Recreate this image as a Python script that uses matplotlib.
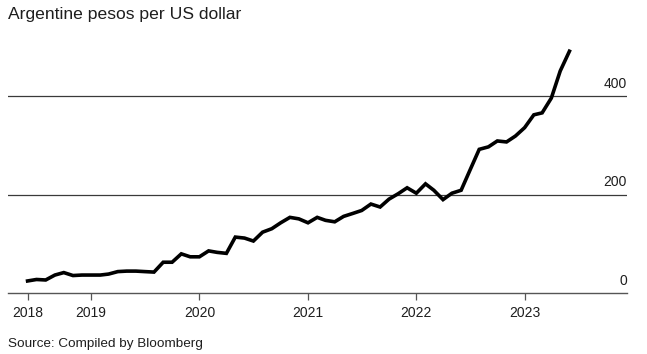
import pandas as pd
import matplotlib
matplotlib.use('Agg')
import matplotlib.pyplot as plt
import matplotlib.transforms as mtransforms

plt.rcParams['font.family'] = ['Liberation Sans', 'DejaVu Sans']

# data: monthly pesos per US dollar, Jun 2018 - Jun 2023
months = pd.date_range('2018-06-01', periods=61, freq='MS')
pesos = [25, 28, 27, 37, 42, 36, 37, 37, 37, 39,
         44, 45, 45, 44, 43, 63, 63, 80, 74, 74,
         86, 83, 81, 114, 112, 106, 124, 131, 143, 154,
         151, 143, 154, 148, 145, 156, 162, 168, 181, 175,
         191, 202, 214, 203, 222, 209, 190, 203, 209, 250,
         292, 297, 309, 307, 319, 336, 362, 366, 396, 451,
         491]
tick_dates = pd.to_datetime(['2018-06-01', '2019-01-01', '2020-01-01',
                             '2021-01-01', '2022-01-01', '2023-01-01'])
tick_labels = ['2018', '2019', '2020', '2021', '2022', '2023']
y_levels = [0, 200, 400]

text_col = '#1e1e1e'

fig = plt.figure(figsize=(6.47, 3.54), dpi=100)
ax = fig.add_axes([8 / 647, 0.1715, 619 / 647, 0.6963])

ax.plot(months, pesos, color='black', lw=2.6, clip_on=False,
        solid_joinstyle='miter', zorder=3)

# grid lines at 200 / 400
for v in y_levels[1:]:
    ax.axhline(v, color='#3a3a3a', lw=0.9, zorder=1)

# right-side value labels sitting on the lines
for v in y_levels:
    tr = mtransforms.offset_copy(ax.get_yaxis_transform(), fig=fig,
                                 x=0, y=6, units='points')
    ax.text(1.0, v, str(v), transform=tr, ha='right', va='baseline',
            fontsize=10, color=text_col)

ax.set_ylim(0, 500)
ax.set_xlim(pd.Timestamp('2018-03-27'), pd.Timestamp('2023-12-12'))

for s in ['left', 'right', 'top']:
    ax.spines[s].set_visible(False)
ax.spines['bottom'].set_color('#555555')
ax.spines['bottom'].set_linewidth(1.0)

ax.set_yticks([])
ax.set_xticks(tick_dates)
ax.set_xticklabels(tick_labels)
ax.tick_params(axis='x', length=5, width=0.9, color='#555555',
               labelsize=10, labelcolor=text_col, pad=4)

fig.text(8 / 647, (354 - 19) / 354, 'Argentine pesos per US dollar',
         fontsize=12.6, color=text_col, ha='left', va='baseline')
fig.text(8 / 647, (354 - 347) / 354, 'Source: Compiled by Bloomberg',
         fontsize=9.7, color=text_col, ha='left', va='baseline')

fig.savefig('out.png', dpi=100)
